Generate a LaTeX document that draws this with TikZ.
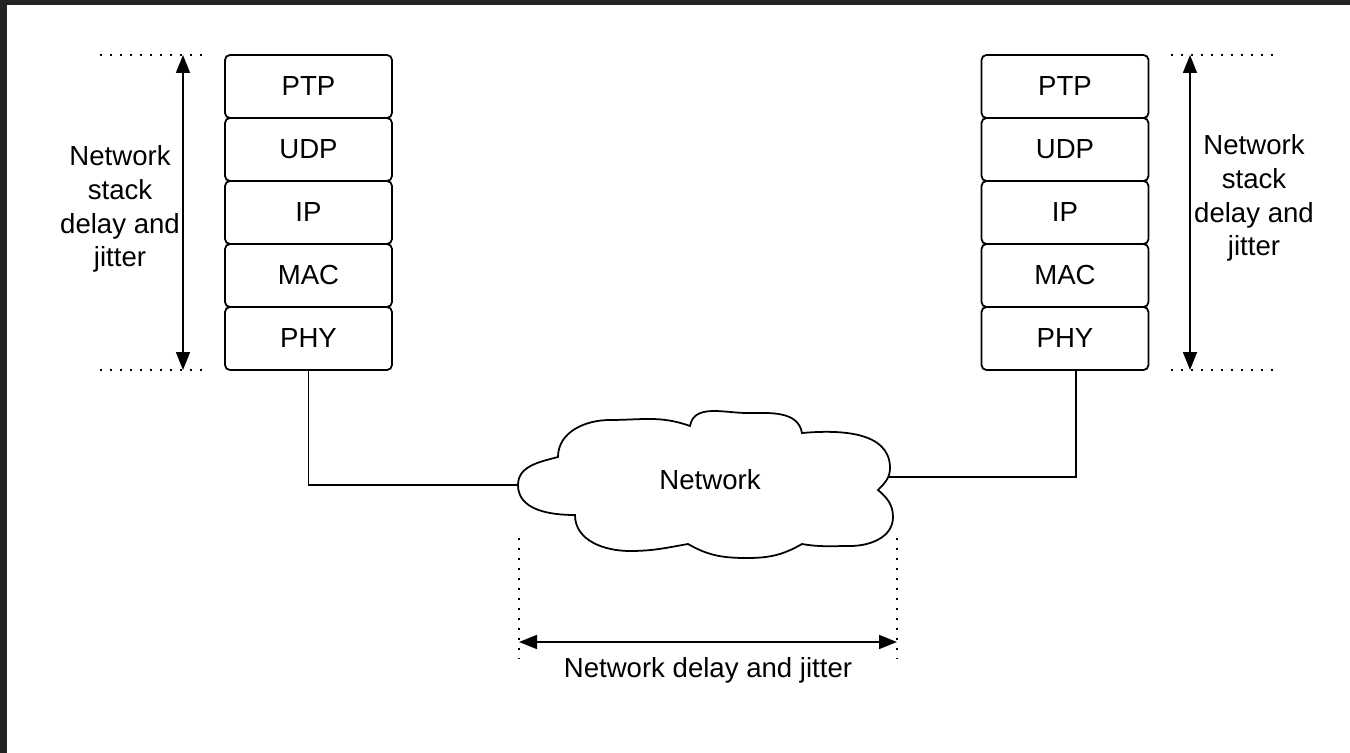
\documentclass[tikz,border=0pt]{standalone}
\usepackage{fontspec}
\setmainfont{Liberation Sans}
\usepackage{tikz}
\usetikzlibrary{arrows.meta}

\definecolor{frame}{HTML}{232323}

\tikzset{
    layer/.style={draw, line width=1pt, rounded corners=2.8pt, minimum width=3.34cm, minimum height=1.26cm, outer sep=0pt},
    span/.style={line width=1pt, {Triangle[length=0.36cm,width=0.28cm]}-{Triangle[length=0.36cm,width=0.28cm]}},
    guide/.style={line width=1.1pt, dash pattern=on 1.1pt off 4.57pt},
    wire/.style={line width=0.9pt},
    lbl/.style={align=center, inner sep=0pt}
}

\begin{document}
\begin{tikzpicture}[x=0.02cm, y=0.02cm, font=\fontsize{15.7}{19.3}\selectfont]
        % Draw the page frame
        \fill[frame] (0,0) rectangle (1350,-753);
        \fill[white] (7,-5) rectangle (1350,-753);
        \useasboundingbox (0,0) rectangle (1350,-753);
        
        % Draw the two protocol stacks
        \foreach \lay [count=\i] in {PTP,UDP,IP,MAC,PHY} {
            \node[layer] (left\i) at (308.5,{-86.5-63*(\i-1)}) {\lay};
            \node[layer] (right\i) at (1065,{-86.5-63*(\i-1)}) {\lay};
        }
        
        % Draw stack delay markers
        \draw[guide] (100,-55) -- (203,-55);
        \draw[guide] (100,-370) -- (203,-370);
        \draw[guide] (1171,-55) -- (1273,-55);
        \draw[guide] (1171,-370) -- (1273,-370);
        \coordinate (ltop) at (183,-55);
        \coordinate (lbot) at (183,-370);
        \coordinate (rtop) at (1190,-55);
        \coordinate (rbot) at (1190,-370);
        \draw[span] (lbot) -- (ltop);
        \draw[span] (rbot) -- (rtop);
        \node[lbl] (stackleft) at (120,-209) {Network\\stack\\delay and\\jitter};
        \node[lbl] (stackright) at (1254,-198) {Network\\stack\\delay and\\jitter};
        
        % Draw the network cloud
        \draw[line width=1pt, fill=white] (575,-515) to[out=180,in=-90] (518,-485)
            to[out=90,in=195] (558,-457)
            to[out=90,in=180] (610,-420) to[out=0,in=160] (690,-426)
            to[out=80,in=180] (747,-413) to[out=0,in=100] (802,-433)
            to[out=5,in=90] (890,-468) to[out=-90,in=45] (878,-490)
            to[out=-40,in=90] (893,-517) to[out=-90,in=0] (850,-546) to[out=180,in=-10] (802,-544)
            to[out=-150,in=0] (747,-558) to[out=180,in=-30] (688,-544)
            to[out=-170,in=0] (630,-551) to[out=180,in=-90] (575,-515) -- cycle;
        \node[lbl] (net) at (710,-480) {Network};
        \coordinate (netwest) at (518,-485);
        \coordinate (neteast) at (888,-477);
        
        % Draw the links
        \draw[wire] (left5.south) |- (netwest);
        \draw[wire] ([xshift=0.22cm]right5.south) |- (neteast);
        
        % Draw network delay marker
        \draw[guide] (519,-538) -- (519,-658);
        \draw[guide] (897,-538) -- (897,-658);
        \coordinate (nleft) at (519,-642);
        \coordinate (nright) at (897,-642);
        \draw[span] (nleft) -- (nright);
        \node[lbl] (netdelay) at (708,-670) {Network delay and jitter};
    \end{tikzpicture}
\end{document}
